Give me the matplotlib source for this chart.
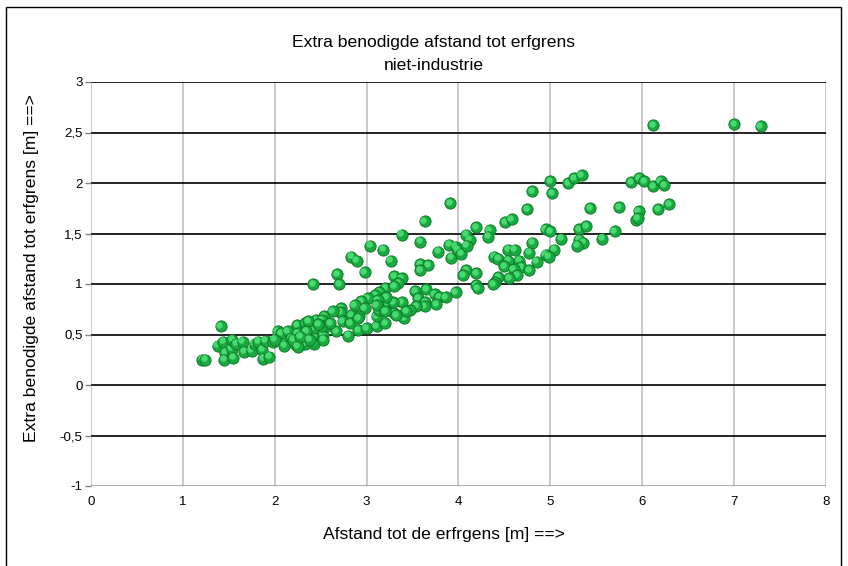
import matplotlib
matplotlib.use('Agg')
import matplotlib.pyplot as plt
from matplotlib.transforms import offset_copy
from matplotlib.patches import Rectangle

plt.rcParams['font.family'] = ['Liberation Sans', 'DejaVu Sans']

# ---- data ----
afstand = [
    1.21, 1.24, 1.41, 1.38, 1.44, 1.46, 1.45, 1.53, 1.54, 1.58, 1.55, 1.65, 1.67, 1.75, 1.78,
    1.82, 1.86, 1.90, 1.87, 1.94, 1.98, 2.03, 2.03, 2.07, 2.11, 2.14, 2.18, 2.24, 2.22, 2.25,
    2.00, 2.10, 2.20, 2.33, 2.38, 2.34, 2.43, 2.45, 2.54, 2.53, 2.56, 2.43, 2.33, 2.42,
    2.68, 2.70, 2.98, 3.20, 3.14, 3.09, 3.01, 2.94, 2.87, 2.98, 2.92, 2.83, 2.72, 2.71, 2.63,
    2.51, 2.74, 2.82, 2.91, 3.00, 3.11, 3.20, 2.80, 2.67, 2.42, 2.36, 2.53, 3.21, 3.14, 3.11,
    2.34, 2.28, 2.25, 2.51, 2.60, 2.47,
    3.91, 3.63, 3.38, 3.58, 3.90, 3.97, 3.04, 3.18, 2.83, 2.89, 3.26, 3.78, 3.92, 3.58, 3.67,
    3.58, 3.30, 3.38, 3.34, 3.30, 3.97, 3.65, 3.53, 3.56, 3.74, 3.79, 3.64, 3.63, 3.76, 3.54,
    3.47, 3.39, 3.41, 3.30, 3.38, 3.29, 3.21, 3.12, 3.13, 2.91, 2.38,
    4.08, 4.12, 3.99, 4.03, 4.08, 4.05, 4.19, 4.19, 4.21, 3.86, 3.11, 3.43, 3.32, 3.20,
    5.00, 5.19, 5.26, 5.34, 5.88, 5.97, 4.80, 5.02, 4.75, 5.43, 5.75, 5.96, 5.93, 4.51, 4.58,
    4.19, 4.34, 4.32, 4.95, 5.00, 5.31, 5.39, 5.70, 5.56, 5.12, 5.31, 5.36, 5.29, 5.04, 4.80,
    4.77, 4.95, 4.98, 4.85, 4.09, 4.54, 4.61, 4.39, 4.43, 4.54, 4.66, 4.68, 4.50, 4.60, 4.77,
    4.64, 4.55, 4.43, 4.40, 4.38, 6.02,
    6.12, 7.00, 7.29, 6.12, 6.20, 6.24, 6.17, 6.29, 5.95,
]
extra = [
    0.25, 0.25, 0.58, 0.39, 0.43, 0.32, 0.25, 0.36, 0.45, 0.41, 0.27, 0.43, 0.33, 0.34, 0.41,
    0.43, 0.35, 0.44, 0.26, 0.28, 0.43, 0.53, 0.48, 0.51, 0.41, 0.53, 0.46, 0.59, 0.41, 0.51,
    0.45, 0.39, 0.45, 0.61, 0.55, 0.46, 0.48, 0.64, 0.68, 0.50, 0.58, 0.41, 0.41, 1.00,
    1.10, 1.00, 1.12, 0.96, 0.92, 0.89, 0.86, 0.83, 0.79, 0.76, 0.68, 0.69, 0.76, 0.72, 0.73,
    0.64, 0.63, 0.61, 0.54, 0.56, 0.58, 0.61, 0.49, 0.53, 0.56, 0.63, 0.45, 0.79, 0.76, 0.68,
    0.53, 0.48, 0.38, 0.58, 0.61, 0.60,
    1.80, 1.62, 1.49, 1.42, 1.39, 1.37, 1.38, 1.34, 1.27, 1.23, 1.23, 1.32, 1.26, 1.20, 1.19,
    1.14, 1.08, 1.06, 1.01, 0.98, 0.92, 0.95, 0.93, 0.86, 0.90, 0.87, 0.82, 0.78, 0.80, 0.78,
    0.74, 0.69, 0.66, 0.71, 0.82, 0.82, 0.87, 0.84, 0.74, 0.66, 0.45,
    1.49, 1.44, 1.34, 1.30, 1.14, 1.09, 1.11, 0.99, 0.96, 0.87, 0.79, 0.73, 0.69, 0.73,
    2.02, 2.00, 2.05, 2.08, 2.01, 2.05, 1.92, 1.90, 1.74, 1.75, 1.76, 1.72, 1.63, 1.61, 1.64,
    1.56, 1.53, 1.47, 1.54, 1.52, 1.54, 1.57, 1.52, 1.45, 1.45, 1.44, 1.41, 1.38, 1.34, 1.41,
    1.31, 1.29, 1.27, 1.22, 1.38, 1.34, 1.34, 1.27, 1.25, 1.23, 1.23, 1.17, 1.18, 1.15, 1.14,
    1.09, 1.06, 1.07, 1.02, 1.00, 2.02,
    2.57, 2.58, 2.56, 1.97, 2.02, 1.98, 1.74, 1.79, 1.65,
]

xticks = [0, 1, 2, 3, 4, 5, 6, 7, 8]
xtick_labels = ['0', '1', '2', '3', '4', '5', '6', '7', '8']
yticks = [-1, -0.5, 0, 0.5, 1, 1.5, 2, 2.5, 3]
ytick_labels = ['-1', '-0,5', '0', '0,5', '1', '1,5', '2', '2,5', '3']

title1 = 'Extra benodigde afstand tot erfgrens'
title2 = 'niet-industrie'
xlabel = 'Afstand tot de erfrgens [m] ==>'
ylabel = 'Extra benodigde afstand tot erfgrens [m] ==>'

# ---- figure ----
W, H = 848, 566
fig = plt.figure(figsize=(W / 100, H / 100), dpi=100)
fig.patch.set_facecolor('white')
fig.patches.append(Rectangle((6 / W, -0.01), (841 - 6) / W, (559) / H + 0.01,
                             transform=fig.transFigure, fill=False,
                             edgecolor='black', lw=1.0))

ax = fig.add_axes([91 / W, (H - 486) / H, (826 - 91) / W, (486 - 82) / H])
ax.set_xlim(0, 8)
ax.set_ylim(-1, 3)
for s in ax.spines.values():
    s.set_visible(False)

ax.set_xticks(xticks)
ax.set_xticklabels(xtick_labels)
ax.set_yticks(yticks)
ax.set_yticklabels(ytick_labels)
ax.tick_params(axis='x', length=0, pad=7, labelsize=9.5)
ax.tick_params(axis='y', length=4, color='#808080', width=1, pad=2, labelsize=9.5)

for xv in xticks:
    ax.axvline(xv, color='#c0c0c0', lw=1.2, zorder=0)
for yv in yticks[1:]:
    ax.axhline(yv, color='black', lw=1.2, zorder=0.5)
ax.axhline(-1, color='#909090', lw=1.8, zorder=0.5)

hl = offset_copy(ax.transData, fig=fig, x=-1.3, y=1.3, units='dots')
for i, (xv, yv) in enumerate(zip(afstand, extra)):
    ax.scatter([xv], [yv], s=66, c='#1aa840', edgecolors='#0b7424',
               linewidths=0.6, zorder=3 + i * 0.01, clip_on=False)
    ax.scatter([xv], [yv], s=22, c='#48da70', linewidths=0,
               zorder=3.005 + i * 0.01, transform=hl, clip_on=False)

fig.text(434 / W, 1 - 42 / H, title1, ha='center', va='center', fontsize=12.6)
fig.text(434 / W, 1 - 66 / H, title2, ha='center', va='center', fontsize=12.6)
fig.text(444 / W, 1 - 534 / H, xlabel, ha='center', va='center', fontsize=12.6)
fig.text(32 / W, 1 - 268 / H, ylabel, ha='center', va='center', fontsize=12.6,
         rotation=90)

fig.savefig('out.png', dpi=100)
